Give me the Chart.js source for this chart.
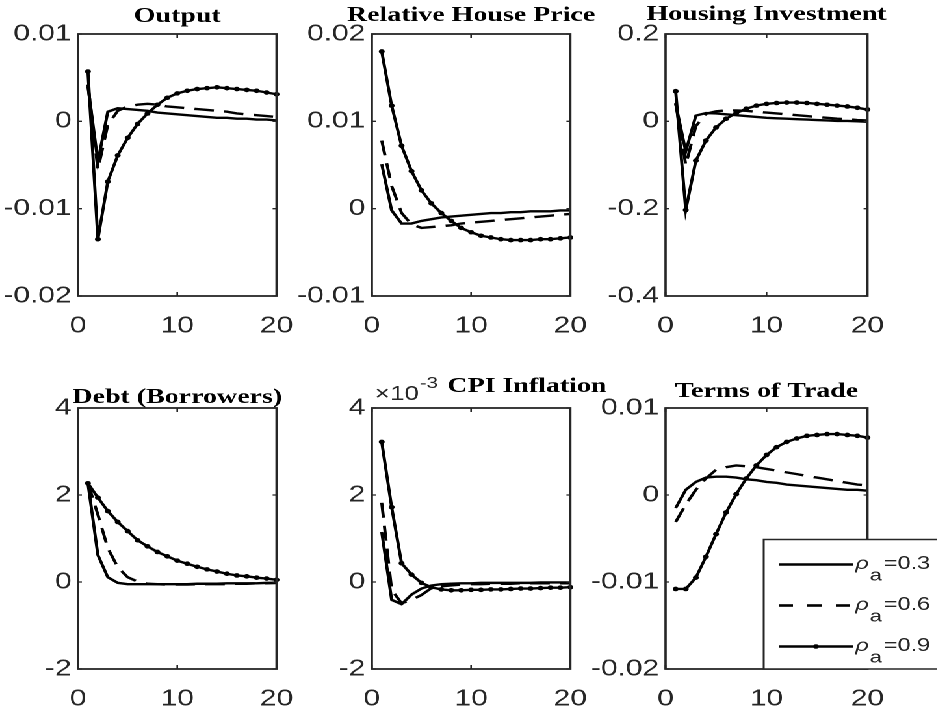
<!DOCTYPE html>
<html>
<head>
<meta charset="utf-8">
<title>Impulse responses</title>
<script src="https://cdn.jsdelivr.net/npm/chart.js@4.4.1/dist/chart.umd.min.js"></script>
<style>
  html, body { margin: 0; padding: 0; background: #fff; overflow: hidden; }
  /* the source figure is stretched sideways, so the whole page is too */
  #page { position: absolute; left: 0; top: 0; width: 722px; height: 713px;
          transform: scaleX(1.3); transform-origin: 0 0; }
  #page canvas { position: absolute; }
</style>
</head>
<body>
<div id="page"></div>
<script>
// quarters after the shock
const periods = [1, 2, 3, 4, 5, 6, 7, 8, 9, 10, 11, 12, 13, 14, 15, 16, 17, 18, 19, 20];
const xTicks = [0, 10, 20];
const rhoValues = ['0.3', '0.6', '0.9'];

// Output
const output03 = [0.0040, -0.0046, 0.0011, 0.0015, 0.0014, 0.0013, 0.0012, 0.0010, 0.0009, 0.0008,
                  0.0007, 0.0006, 0.0005, 0.0004, 0.0004, 0.0003, 0.0003, 0.0002, 0.0002, 0.0001];
const output06 = [0.0042, -0.0055, -0.0004, 0.0012, 0.0017, 0.0019, 0.0020, 0.0019, 0.0017, 0.0016,
                  0.0015, 0.0014, 0.0013, 0.0012, 0.0011, 0.0009, 0.0008, 0.0007, 0.0006, 0.0005];
const output09 = [0.0057, -0.0135, -0.0069, -0.0039, -0.0019, -0.0003, 0.0009, 0.0019, 0.0027, 0.0032,
                  0.0035, 0.0037, 0.0038, 0.0039, 0.0038, 0.0037, 0.0036, 0.0035, 0.0033, 0.0031];

// Relative house price
const housePrice03 = [0.0051, -0.0002, -0.0017, -0.0017, -0.0014, -0.0012, -0.0010, -0.0009, -0.0008, -0.0007,
                      -0.0006, -0.0005, -0.0005, -0.0004, -0.0004, -0.0003, -0.0003, -0.0003, -0.0002, -0.0002];
const housePrice06 = [0.0078, 0.0026, -0.0005, -0.0018, -0.0022, -0.0021, -0.0020, -0.0019, -0.0017, -0.0016,
                      -0.0015, -0.0014, -0.0013, -0.0012, -0.0011, -0.0010, -0.0009, -0.0008, -0.0007, -0.0006];
const housePrice09 = [0.0180, 0.0118, 0.0072, 0.0043, 0.0021, 0.0006, -0.0005, -0.0014, -0.0022, -0.0027,
                      -0.0031, -0.0033, -0.0035, -0.0036, -0.0036, -0.0036, -0.0035, -0.0035, -0.0034, -0.0033];

// Housing investment
const investment03 = [0.040, -0.069, 0.013, 0.019, 0.018, 0.016, 0.014, 0.012, 0.010, 0.008,
                      0.007, 0.006, 0.005, 0.004, 0.003, 0.002, 0.001, 0.001, 0.000, -0.001];
const investment06 = [0.042, -0.100, -0.011, 0.017, 0.023, 0.025, 0.025, 0.024, 0.022, 0.020,
                      0.018, 0.016, 0.014, 0.012, 0.010, 0.008, 0.006, 0.005, 0.003, 0.002];
const investment09 = [0.069, -0.203, -0.090, -0.044, -0.014, 0.006, 0.019, 0.029, 0.036, 0.040,
                      0.042, 0.043, 0.043, 0.042, 0.040, 0.038, 0.036, 0.034, 0.031, 0.027];

// Debt (borrowers)
const debt03 = [2.27, 0.62, 0.11, -0.02, -0.05, -0.05, -0.05, -0.05, -0.05, -0.05,
                -0.05, -0.04, -0.04, -0.04, -0.03, -0.03, -0.03, -0.03, -0.02, -0.02];
const debt06 = [2.27, 1.55, 0.78, 0.34, 0.11, 0.01, -0.04, -0.05, -0.06, -0.06,
                -0.06, -0.05, -0.05, -0.05, -0.05, -0.04, -0.04, -0.03, -0.03, -0.02];
const debt09 = [2.27, 1.94, 1.63, 1.38, 1.17, 0.96, 0.82, 0.69, 0.59, 0.49,
                0.42, 0.35, 0.29, 0.24, 0.19, 0.15, 0.13, 0.10, 0.08, 0.05];

// CPI inflation, in units of 10^-3
const cpi03 = [1.15, -0.41, -0.51, -0.29, -0.15, -0.08, -0.05, -0.04, -0.03, -0.03,
               -0.02, -0.02, -0.02, -0.02, -0.02, -0.02, -0.01, -0.01, -0.01, -0.01];
const cpi06 = [1.82, -0.18, -0.49, -0.41, -0.30, -0.14, -0.10, -0.08, -0.06, -0.05,
               -0.05, -0.04, -0.04, -0.04, -0.03, -0.03, -0.03, -0.03, -0.03, -0.03];
const cpi09 = [3.22, 1.72, 0.43, 0.17, -0.02, -0.12, -0.17, -0.19, -0.19, -0.18,
               -0.18, -0.17, -0.17, -0.16, -0.15, -0.15, -0.14, -0.13, -0.13, -0.12];

// Terms of trade
const tot03 = [-0.0015, 0.0006, 0.0015, 0.0020, 0.0021, 0.0021, 0.0020, 0.0018, 0.0017, 0.0015,
               0.0014, 0.0012, 0.0011, 0.0010, 0.0009, 0.0008, 0.0007, 0.0006, 0.0006, 0.0005];
const tot06 = [-0.0031, -0.0011, 0.0006, 0.0019, 0.0029, 0.0032, 0.0034, 0.0033, 0.0032, 0.0030,
               0.0028, 0.0026, 0.0024, 0.0022, 0.0020, 0.0018, 0.0016, 0.0014, 0.0012, 0.0011];
const tot09 = [-0.0108, -0.0108, -0.0095, -0.0071, -0.0045, -0.0020, 0.0001, 0.0019, 0.0034, 0.0046,
               0.0055, 0.0061, 0.0065, 0.0068, 0.0069, 0.0070, 0.0070, 0.0069, 0.0068, 0.0066];

// y tick labels of each panel
const outputTicks = [-0.02, -0.01, 0, 0.01];
const housePriceTicks = [-0.01, 0, 0.01, 0.02];
const investmentTicks = [-0.4, -0.2, 0, 0.2];
const debtTicks = [-2, 0, 2, 4];
const cpiTicks = [-2, 0, 2, 4];
const totTicks = [-0.02, -0.01, 0, 0.01];

const panels = [
  { title: 'Output', series: [output03, output06, output09], yTicks: outputTicks, col: 0, row: 0, gap: 12 },
  { title: 'Relative House Price', series: [housePrice03, housePrice06, housePrice09], yTicks: housePriceTicks, col: 1, row: 0, gap: 13 },
  { title: 'Housing Investment', series: [investment03, investment06, investment09], yTicks: investmentTicks, col: 2, row: 0, gap: 14 },
  { title: 'Debt (Borrowers)', series: [debt03, debt06, debt09], yTicks: debtTicks, col: 0, row: 1, gap: 5 },
  { title: 'CPI Inflation', series: [cpi03, cpi06, cpi09], yTicks: cpiTicks, col: 1, row: 1, gap: 16, shift: 43, exponent: '-3' },
  { title: 'Terms of Trade', series: [tot03, tot06, tot09], yTicks: totTicks, col: 2, row: 1, gap: 11, legend: true }
];

const AXIS_COLOR = '#262626';
const colLeft = [60, 286.2, 512.3];
const rowTop = [34, 408];
const rowHeight = [262, 261];
const plotWidth = 156;
const Y_AXIS_W = 60;
const X_AXIS_H = 45;
const PAD_TOP = 34;
const PAGE_W = 722;
const legendRows = [25, 66, 107];

Chart.defaults.font.family = '"Liberation Sans", Arial, sans-serif';
Chart.defaults.color = AXIS_COLOR;

const tickFont = { size: 23 };
const formatTick = v => String(+Number(v).toFixed(4));

/**
 * Box around the plot, inward ticks on all four sides and the panel title.
 */
const framePlugin = {
  id: 'frame',
  afterDraw(chart, args, opts) {
    const { ctx, chartArea: a, scales } = chart;
    ctx.save();
    ctx.strokeStyle = AXIS_COLOR;
    ctx.lineWidth = 1.8;
    ctx.strokeRect(a.left, a.top, a.width, a.height);

    ctx.lineWidth = 1.3;
    ctx.beginPath();
    scales.x.ticks.forEach(t => {
      const px = scales.x.getPixelForValue(t.value);
      ctx.moveTo(px, a.bottom); ctx.lineTo(px, a.bottom - 4);
      ctx.moveTo(px, a.top); ctx.lineTo(px, a.top + 4);
    });
    scales.y.ticks.forEach(t => {
      const py = scales.y.getPixelForValue(t.value);
      ctx.moveTo(a.left, py); ctx.lineTo(a.left + 3, py);
      ctx.moveTo(a.right, py); ctx.lineTo(a.right - 3, py);
    });
    ctx.stroke();

    ctx.fillStyle = '#000';
    ctx.font = 'bold 21.5px "Liberation Serif", "Times New Roman", serif';
    ctx.textAlign = 'center';
    ctx.textBaseline = 'alphabetic';
    ctx.fillText(opts.text, (a.left + a.right) / 2 + (opts.shift || 0), a.top - opts.gap);

    if (opts.exponent) {
      ctx.fillStyle = AXIS_COLOR;
      ctx.textAlign = 'left';
      ctx.font = '20px "Liberation Sans", Arial, sans-serif';
      const base = '\u00d710';
      const x0 = a.left + 2.3;
      ctx.fillText(base, x0, a.top - 8);
      const w = ctx.measureText(base).width;
      ctx.font = '16px "Liberation Sans", Arial, sans-serif';
      ctx.fillText(opts.exponent, x0 + w + 0.5, a.top - 20);
    }
    ctx.restore();
  }
};

/**
 * Legend for the three persistence values, drawn in the last panel.
 */
const legendPlugin = {
  id: 'rhoLegend',
  afterDraw(chart, args, opts) {
    if (!opts.show) return;
    const { ctx, chartArea: a } = chart;
    const x0 = a.right - 79.8;
    const y1 = a.bottom;
    const y0 = a.bottom - 129.5;
    const x1 = chart.width + 6;
    ctx.save();
    ctx.fillStyle = '#fff';
    ctx.fillRect(x0, y0, x1 - x0, y1 - y0);
    ctx.strokeStyle = AXIS_COLOR;
    ctx.lineWidth = 1.5;
    ctx.strokeRect(x0, y0, x1 - x0, y1 - y0);

    chart.data.datasets.forEach((ds, k) => {
      const y = y0 + legendRows[k];
      ctx.strokeStyle = '#000';
      ctx.lineWidth = 2.6;
      ctx.setLineDash(ds.borderDash && ds.borderDash.length ? [11, 11] : []);
      ctx.beginPath();
      ctx.moveTo(x0 + 11.5, y);
      ctx.lineTo(x0 + 69, y);
      ctx.stroke();
      ctx.setLineDash([]);
      if (ds.pointRadius) {
        ctx.fillStyle = '#000';
        ctx.beginPath();
        ctx.arc(x0 + 40.2, y, ds.pointRadius, 0, Math.PI * 2);
        ctx.fill();
      }
      ctx.fillStyle = AXIS_COLOR;
      ctx.textAlign = 'left';
      ctx.textBaseline = 'alphabetic';
      ctx.font = 'italic 18px "Liberation Sans", Arial, sans-serif';
      ctx.fillText('\u03c1', x0 + 70.5, y + 4.4);
      ctx.font = '17px "Liberation Sans", Arial, sans-serif';
      ctx.fillText('a', x0 + 81.5, y + 16);
      ctx.font = '18px "Liberation Sans", Arial, sans-serif';
      ctx.fillText('=' + rhoValues[k], x0 + 92.5, y + 4.4);
    });
    ctx.restore();
  }
};

const page = document.getElementById('page');

panels.forEach(p => {
  const padRight = p.col === 2 ? PAGE_W - colLeft[2] - plotWidth : 26;
  const canvas = document.createElement('canvas');
  canvas.width = Y_AXIS_W + plotWidth + padRight;
  canvas.height = PAD_TOP + rowHeight[p.row] + X_AXIS_H;
  canvas.style.left = (colLeft[p.col] - Y_AXIS_W) + 'px';
  canvas.style.top = (rowTop[p.row] - PAD_TOP) + 'px';
  page.appendChild(canvas);

  const datasets = p.series.map((vals, k) => ({
    label: '\u03c1a=' + rhoValues[k],
    data: periods.map((t, j) => ({ x: t, y: vals[j] })),
    borderColor: '#000',
    backgroundColor: '#000',
    borderWidth: 2.4,
    borderDash: k === 1 ? [15, 8] : [],
    pointRadius: k === 2 ? 2.3 : 0,
    pointBorderWidth: 0,
    pointHoverRadius: 0,
    tension: 0,
    clip: 6
  }));

  new Chart(canvas, {
    type: 'line',
    data: { datasets: datasets },
    plugins: [framePlugin, legendPlugin],
    options: {
      responsive: false,
      devicePixelRatio: 2,
      animation: false,
      events: [],
      layout: { padding: { top: PAD_TOP, right: padRight, left: 0, bottom: 0 } },
      plugins: {
        legend: { display: false },
        tooltip: { enabled: false },
        frame: { text: p.title, gap: p.gap, shift: p.shift, exponent: p.exponent },
        rhoLegend: { show: !!p.legend }
      },
      scales: {
        x: {
          type: 'linear',
          min: 0,
          max: 20,
          afterBuildTicks: s => { s.ticks = xTicks.map(v => ({ value: v })); },
          afterFit: s => { s.height = X_AXIS_H; },
          grid: { display: false, drawTicks: false },
          border: { display: false },
          ticks: { font: tickFont, padding: 16.5, maxRotation: 0, callback: formatTick }
        },
        y: {
          type: 'linear',
          min: p.yTicks[0],
          max: p.yTicks[p.yTicks.length - 1],
          afterBuildTicks: s => { s.ticks = p.yTicks.map(v => ({ value: v })); },
          afterFit: s => { s.width = Y_AXIS_W; },
          grid: { display: false, drawTicks: false },
          border: { display: false },
          ticks: { font: tickFont, padding: 5, callback: formatTick }
        }
      }
    }
  });
});
</script>
</body>
</html>
